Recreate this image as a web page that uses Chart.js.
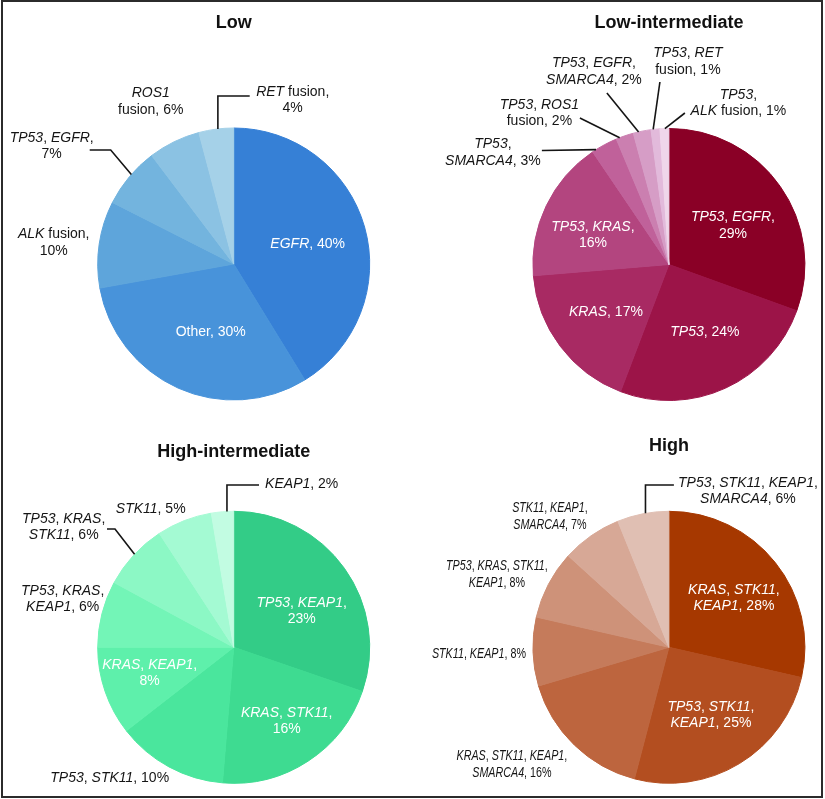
<!DOCTYPE html>
<html><head><meta charset="utf-8">
<script src="https://cdn.jsdelivr.net/npm/chart.js@4.4.1/dist/chart.umd.min.js"></script>
<style>
html,body{margin:0;padding:0;background:#fff;}
#wrap{position:relative;width:825px;height:799px;overflow:hidden;background:#fff;}
#wrap canvas{position:absolute;left:0;top:0;}
#frame{position:absolute;left:1px;top:0;width:822px;height:798px;box-sizing:border-box;border:2px solid #2b2b2b;pointer-events:none;}
</style></head><body>
<div id="wrap">
<canvas id="c1" width="825" height="799"></canvas>
<canvas id="c2" width="825" height="799"></canvas>
<canvas id="c3" width="825" height="799"></canvas>
<canvas id="c4" width="825" height="799"></canvas>
<div id="frame"></div>
</div>
<script>
// ---------------- DATA ----------------
const titles = ["Low", "Low-intermediate", "High-intermediate", "High"];

const lowCategories = ["EGFR", "Other", "ALK fusion", "TP53, EGFR", "ROS1 fusion", "RET fusion"];
const lowValues = [40, 30, 10, 7, 6, 4];

const lowIntCategories = ["TP53, EGFR", "TP53", "KRAS", "TP53, KRAS", "TP53, SMARCA4", "TP53, ROS1 fusion", "TP53, EGFR, SMARCA4", "TP53, RET fusion", "TP53, ALK fusion"];
const lowIntValues = [29, 24, 17, 16, 3, 2, 2, 1, 1];

const highIntCategories = ["TP53, KEAP1", "KRAS, STK11", "TP53, STK11", "KRAS, KEAP1", "TP53, KRAS, KEAP1", "TP53, KRAS, STK11", "STK11", "KEAP1"];
const highIntValues = [23, 16, 10, 8, 6, 6, 5, 2];

const highCategories = ["KRAS, STK11, KEAP1", "TP53, STK11, KEAP1", "KRAS, STK11, KEAP1, SMARCA4", "STK11, KEAP1", "TP53, KRAS, STK11, KEAP1", "STK11, KEAP1, SMARCA4", "TP53, STK11, KEAP1, SMARCA4"];
const highValues = [28, 25, 16, 8, 8, 7, 6];

// ---------------- STYLE ----------------
const lowColors = ["#3680d6", "#4893da", "#5ea5db", "#73b4de", "#8bc2e3", "#a5d1e8"];
const lowIntColors = ["#8a0026", "#9c1448", "#a82a63", "#b3457f", "#c0619a", "#cb7fb0", "#d69dc6", "#e2badb", "#efd6ea"];
const highIntColors = ["#33cc87", "#3edb91", "#4ae69d", "#5ef0ab", "#73f5b7", "#8cf8c5", "#a4fad3", "#c2fce2"];
const highColors = ["#a63800", "#b34e20", "#bd653e", "#c57b5b", "#ce9279", "#d7a896", "#e0bfb3"];

const FONT = "'Liberation Sans', Arial, Helvetica, sans-serif";
const NARROW_FONT = "'Liberation Sans Narrow', 'Arial Narrow', 'Liberation Sans', Arial, sans-serif";
const W = 825, H = 799, R = 136.5;

// label layout: offset of text block centre from pie centre, colour, words per line, leader
const lowLayout = [
  {dx: 74, dy: -20, c: 'w'},
  {dx: -23, dy: 68, c: 'w'},
  {dx: -180, dy: -21.5, c: 'k', lines: [2, 1]},
  {dx: -182, dy: -118, c: 'k', lines: [2, 1], leader: {type: 'hd', sx: -144, sy: -114, h: 21, t: 0.55}},
  {dx: -83, dy: -162.5, c: 'k', lines: [1, 2]},
  {dx: 59, dy: -164, c: 'k', lines: [2, 1], leader: {type: 'hv', sx: 16, sy: -168, t: 0.55}}
];
const lowIntLayout = [
  {dx: 64, dy: -39, c: 'w', lines: [2, 1]},
  {dx: 36, dy: 67.5, c: 'w'},
  {dx: -63, dy: 47.5, c: 'w'},
  {dx: -76, dy: -29.5, c: 'w', lines: [2, 1]},
  {dx: -176, dy: -112, c: 'k', lines: [1, 2], leader: {type: 'd', sx: -127, sy: -114, t: 0.15}},
  {dx: -129.5, dy: -151.5, c: 'k', lines: [2, 2], leader: {type: 'd', sx: -89, sy: -146.5, t: 0.2}},
  {dx: -75, dy: -193, c: 'k', lines: [2, 2], leader: {type: 'd', sx: -62, sy: -171.5, t: 0.3}},
  {dx: 19, dy: -203, c: 'k', lines: [2, 2], leader: {type: 'd', sx: -9, sy: -182.5, t: 0.25}},
  {dx: 69.5, dy: -161.5, c: 'k', lines: [1, 3], leader: {type: 'd', sx: 16, sy: -151.5, t: 0.55}}
];
const highIntLayout = [
  {dx: 68, dy: -36, c: 'w', lines: [2, 1]},
  {dx: 53, dy: 74, c: 'w', lines: [2, 1]},
  {dx: -124, dy: 131, c: 'k'},
  {dx: -84, dy: 26, c: 'w', lines: [2, 1]},
  {dx: -171, dy: -48, c: 'k', lines: [2, 2]},
  {dx: -170, dy: -120, c: 'k', lines: [2, 2], leader: {type: 'hd', sx: -126.7, sy: -118.3, h: 8, t: 0.52}},
  {dx: -83, dy: -138, c: 'k'},
  {dx: 68, dy: -163, c: 'k', leader: {type: 'hv', sx: 25.3, sy: -162.3, t: 0.7}}
];
const highLayout = [
  {dx: 65, dy: -49, c: 'w', lines: [2, 2]},
  {dx: 42, dy: 68, c: 'w', lines: [2, 2]},
  {dx: -157, dy: 117, c: 'k', lines: [3, 2], narrow: true},
  {dx: -190, dy: 7, c: 'k', narrow: true},
  {dx: -172, dy: -73, c: 'k', lines: [3, 2], narrow: true},
  {dx: -119, dy: -131, c: 'k', lines: [2, 2], narrow: true},
  {dx: 79, dy: -156, c: 'k', lines: [3, 2], leader: {type: 'hv', sx: 5, sy: -162.3, t: 0.55}}
];

// pie centres and title baselines
const pies = [
  {id: 'c1', title: titles[0], cats: lowCategories, vals: lowValues, colors: lowColors, layout: lowLayout, cx: 233.7, cy: 264, ty: 27.5},
  {id: 'c2', title: titles[1], cats: lowIntCategories, vals: lowIntValues, colors: lowIntColors, layout: lowIntLayout, cx: 668.9, cy: 264.5, ty: 27.5},
  {id: 'c3', title: titles[2], cats: highIntCategories, vals: highIntValues, colors: highIntColors, layout: highIntLayout, cx: 233.7, cy: 647.3, ty: 457},
  {id: 'c4', title: titles[3], cats: highCategories, vals: highValues, colors: highColors, layout: highLayout, cx: 668.9, cy: 647.3, ty: 451}
];

const isGene = w => /^[A-Z][A-Z0-9]*[A-Z0-9]$/.test(w.replace(/,$/, '')) && !/%/.test(w);

// horizontal scale so that narrow labels are ~74% of regular Arial width
let narrowScale = 0.74;
(function () {
  const c = document.createElement('canvas').getContext('2d');
  const s = "STK11, KEAP1, SMARCA4, 8%";
  c.font = "14.5px " + FONT; const a = c.measureText(s).width;
  c.font = "14.5px " + NARROW_FONT; const b = c.measureText(s).width;
  narrowScale = Math.min(1, 0.74 * a / b);
})();

function drawRichLine(ctx, words, x, y, narrow) {
  const size = narrow ? 14.5 : 14;
  const fam = narrow ? NARROW_FONT : FONT;
  const up = size + "px " + fam, it = "italic " + size + "px " + fam;
  const segs = [];
  words.forEach((w, i) => {
    if (i > 0) segs.push({t: ' ', f: up});
    if (isGene(w)) {
      const core = w.replace(/,$/, '');
      segs.push({t: core, f: it});
      if (core !== w) segs.push({t: ',', f: up});
    } else segs.push({t: w, f: up});
  });
  let total = 0;
  segs.forEach(s => { ctx.font = s.f; s.w = ctx.measureText(s.t).width; total += s.w; });
  const sx = narrow ? narrowScale : 1;
  ctx.save();
  ctx.translate(x, y);
  ctx.scale(sx, 1);
  let cur = -total / 2;
  segs.forEach(s => { ctx.font = s.f; ctx.fillText(s.t, cur, 0); cur += s.w; });
  ctx.restore();
}

const labelPlugin = {
  id: 'pieLabels',
  afterDraw(chart, args, opts) {
    const p = opts.pie;
    const ctx = chart.ctx;
    const arcs = chart.getDatasetMeta(0).data;
    const x0 = arcs[0].x, y0 = arcs[0].y, r = arcs[0].outerRadius;
    ctx.save();
    // title
    ctx.fillStyle = '#111';
    ctx.font = "bold 18px " + FONT;
    ctx.textAlign = 'center';
    ctx.textBaseline = 'alphabetic';
    ctx.fillText(p.title, x0, p.ty);
    ctx.textAlign = 'left';
    ctx.textBaseline = 'middle';
    const data = chart.data.datasets[0].data;
    chart.data.labels.forEach((cat, i) => {
      const L = p.layout[i];
      const arc = arcs[i];
      const words = (cat + ', ' + data[i] + '%').split(' ');
      const counts = L.lines || [words.length];
      const lh = 16.5;
      const bx = x0 + L.dx, by = y0 + L.dy;
      let k = 0;
      ctx.fillStyle = L.c === 'w' ? '#ffffff' : '#151515';
      counts.forEach((n, li) => {
        const lw = words.slice(k, k + n); k += n;
        const ly = by + (li - (counts.length - 1) / 2) * lh;
        drawRichLine(ctx, lw, bx, ly, L.narrow);
      });
      if (L.leader) {
        const ld = L.leader;
        const ang = arc.startAngle + ld.t * (arc.endAngle - arc.startAngle);
        const ex = arc.x + r * Math.cos(ang), ey = arc.y + r * Math.sin(ang);
        const sx = x0 + ld.sx, sy = y0 + ld.sy;
        ctx.beginPath();
        ctx.strokeStyle = '#151515';
        ctx.lineWidth = 1.6;
        ctx.moveTo(sx, sy);
        if (ld.type === 'hv') { ctx.lineTo(ex, sy); }
        else if (ld.type === 'hd') { ctx.lineTo(sx + ld.h, sy); }
        ctx.lineTo(ex, ey);
        ctx.stroke();
      }
    });
    ctx.restore();
  }
};

pies.forEach(p => {
  new Chart(document.getElementById(p.id), {
    type: 'pie',
    data: {
      labels: p.cats,
      datasets: [{data: p.vals, backgroundColor: p.colors, borderColor: p.colors, borderWidth: 1, hoverOffset: 0}]
    },
    options: {
      responsive: false,
      animation: false,
      devicePixelRatio: 1,
      events: [],
      layout: {padding: {left: p.cx - R, right: W - p.cx - R, top: p.cy - R, bottom: H - p.cy - R}},
      plugins: {legend: {display: false}, tooltip: {enabled: false}, title: {display: false}, pieLabels: {pie: p}}
    },
    plugins: [labelPlugin]
  });
});
</script>
</body></html>
